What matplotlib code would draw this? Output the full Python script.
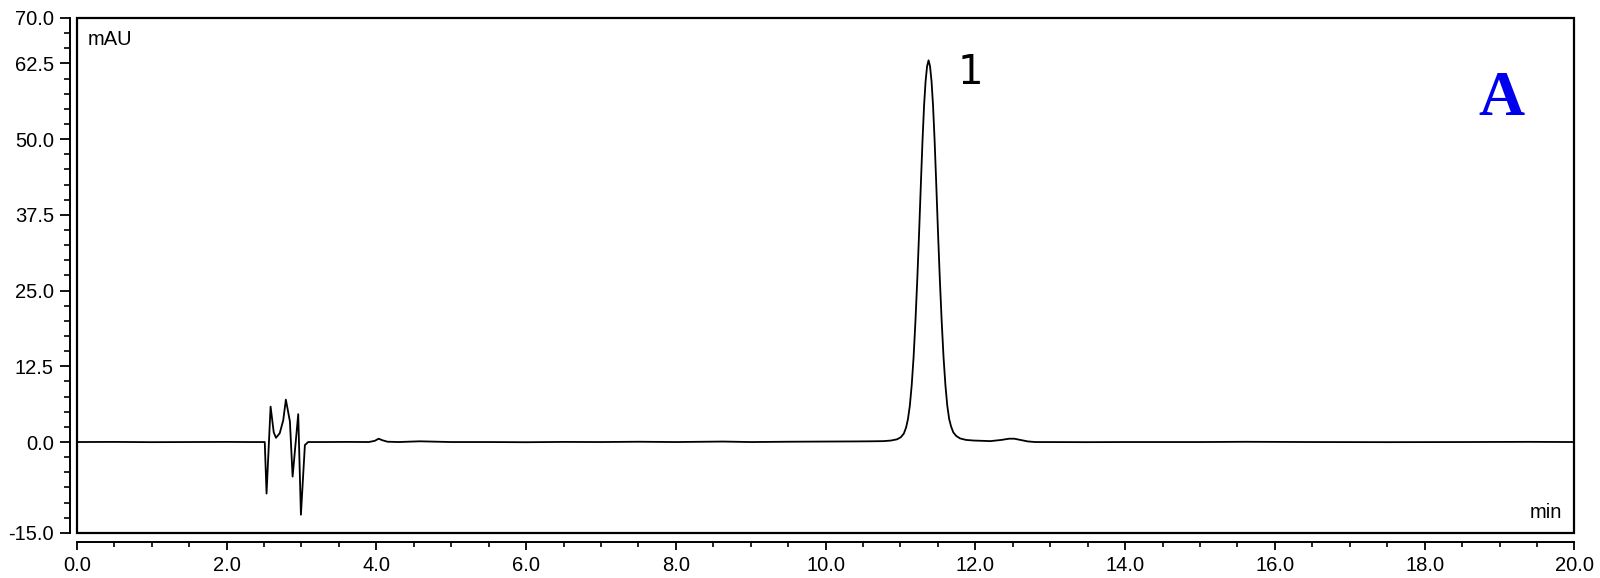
import matplotlib
matplotlib.use("Agg")
import matplotlib.pyplot as plt
from matplotlib.patches import Rectangle
from matplotlib.ticker import MultipleLocator, FixedLocator

# chromatogram trace (time in min, signal in mAU)
time_min = [
    0.0, 0.5, 1.0, 1.5, 2.0, 2.3, 2.51,
    2.534, 2.588, 2.63, 2.66, 2.71, 2.757, 2.792, 2.846, 2.882, 2.957, 2.993,
    3.046, 3.09, 3.3, 3.6, 3.9, 3.98, 4.03, 4.08, 4.15, 4.3, 4.58, 5.0, 5.5,
    6.0, 6.5, 7.0, 7.5, 8.0, 8.63, 9.0, 9.5, 10.0, 10.4, 10.6, 10.775,
    10.875, 10.955, 11.005, 11.045, 11.075, 11.1, 11.125, 11.15, 11.175,
    11.2, 11.225, 11.25, 11.275, 11.295, 11.315, 11.335, 11.355, 11.375,
    11.395, 11.415, 11.435, 11.455, 11.475, 11.5, 11.525, 11.55, 11.575,
    11.6, 11.625, 11.65, 11.675, 11.705, 11.745, 11.795, 11.875, 11.975,
    12.2, 12.35, 12.45, 12.52, 12.6, 12.7, 12.8, 13.5, 14.0, 15.0, 15.6,
    16.5, 17.5, 18.5, 19.4, 20.0,
]
signal_mau = [
    0.0, 0.02, -0.02, 0.0, 0.02, 0.0, 0.0,
    -8.5, 5.85, 1.6, 0.7, 1.45, 3.6, 7.0, 3.4, -5.7, 4.6, -12.0,
    -0.5, 0.0, 0.0, 0.02, 0.0, 0.2, 0.55, 0.3, 0.05, 0.0, 0.12, 0.0, 0.0,
    -0.03, 0.02, 0.0, 0.05, 0.0, 0.08, 0.0, 0.05, 0.08, 0.1, 0.12, 0.15,
    0.25, 0.45, 0.8, 1.4, 2.4, 3.8, 6.0, 9.4, 14.0,
    20.0, 27.0, 35.0, 43.5, 50.0, 55.5, 59.5, 62.0, 63.0,
    62.0, 59.5, 55.5, 50.0, 43.5, 35.0, 27.0, 20.0, 14.0,
    9.4, 6.0, 3.8, 2.6, 1.6, 1.0, 0.6, 0.35, 0.25,
    0.15, 0.35, 0.55, 0.55, 0.35, 0.1, 0.0, -0.02, 0.0, 0.0, 0.04,
    0.0, -0.02, 0.0, 0.03, 0.0,
]

x_major = [0, 2, 4, 6, 8, 10, 12, 14, 16, 18, 20]
y_major = [-15.0, 0.0, 12.5, 25.0, 37.5, 50.0, 62.5, 70.0]

plt.rcParams["font.family"] = ["Liberation Sans", "DejaVu Sans"]

fig = plt.figure(figsize=(16, 5.78), dpi=100)
ax = fig.add_axes([0.048, 0.078, 0.936, 0.891])

ax.plot(time_min, signal_mau, color="black", lw=1.3)

ax.set_xlim(0, 20)
ax.set_ylim(-15, 70)

# detached left/bottom axes, closed frame around the plot
for side in ["top", "right"]:
    ax.spines[side].set_visible(False)
ax.spines["left"].set_position(("outward", 5))
ax.spines["bottom"].set_position(("outward", 6.5))
ax.spines["left"].set_linewidth(1.4)
ax.spines["bottom"].set_linewidth(1.4)
ax.add_patch(Rectangle((0, 0), 1, 1, transform=ax.transAxes, fill=False,
                       lw=1.6, ec="black", clip_on=False))

ax.xaxis.set_major_locator(FixedLocator(x_major))
ax.xaxis.set_minor_locator(MultipleLocator(0.5))
ax.yaxis.set_major_locator(FixedLocator(y_major))
ax.yaxis.set_minor_locator(MultipleLocator(2.5))
ax.set_xticklabels(["%.1f" % v for v in x_major])
ax.set_yticklabels(["%.1f" % v for v in y_major])

ax.tick_params(axis="x", which="major", length=6, width=1.3, labelsize=14.5, pad=4)
ax.tick_params(axis="x", which="minor", length=3.5, width=1.2)
ax.tick_params(axis="y", which="major", length=7.5, width=1.3, labelsize=14.5, pad=4)
ax.tick_params(axis="y", which="minor", length=4, width=1.2)

ax.text(0.0073, 0.9476, "mAU", transform=ax.transAxes, fontsize=14.5,
        ha="left", va="baseline")
ax.text(0.992, 0.029, "min", transform=ax.transAxes, fontsize=14.5,
        ha="right", va="baseline")
ax.text(11.93, 59.1, "1", fontsize=29, family="DejaVu Sans",
        ha="center", va="baseline")
ax.text(0.951, 0.812, "A", transform=ax.transAxes, fontsize=46,
        family="Liberation Serif", weight="bold", color="#0000ee",
        ha="center", va="baseline")

fig.savefig("out.png", dpi=100)
